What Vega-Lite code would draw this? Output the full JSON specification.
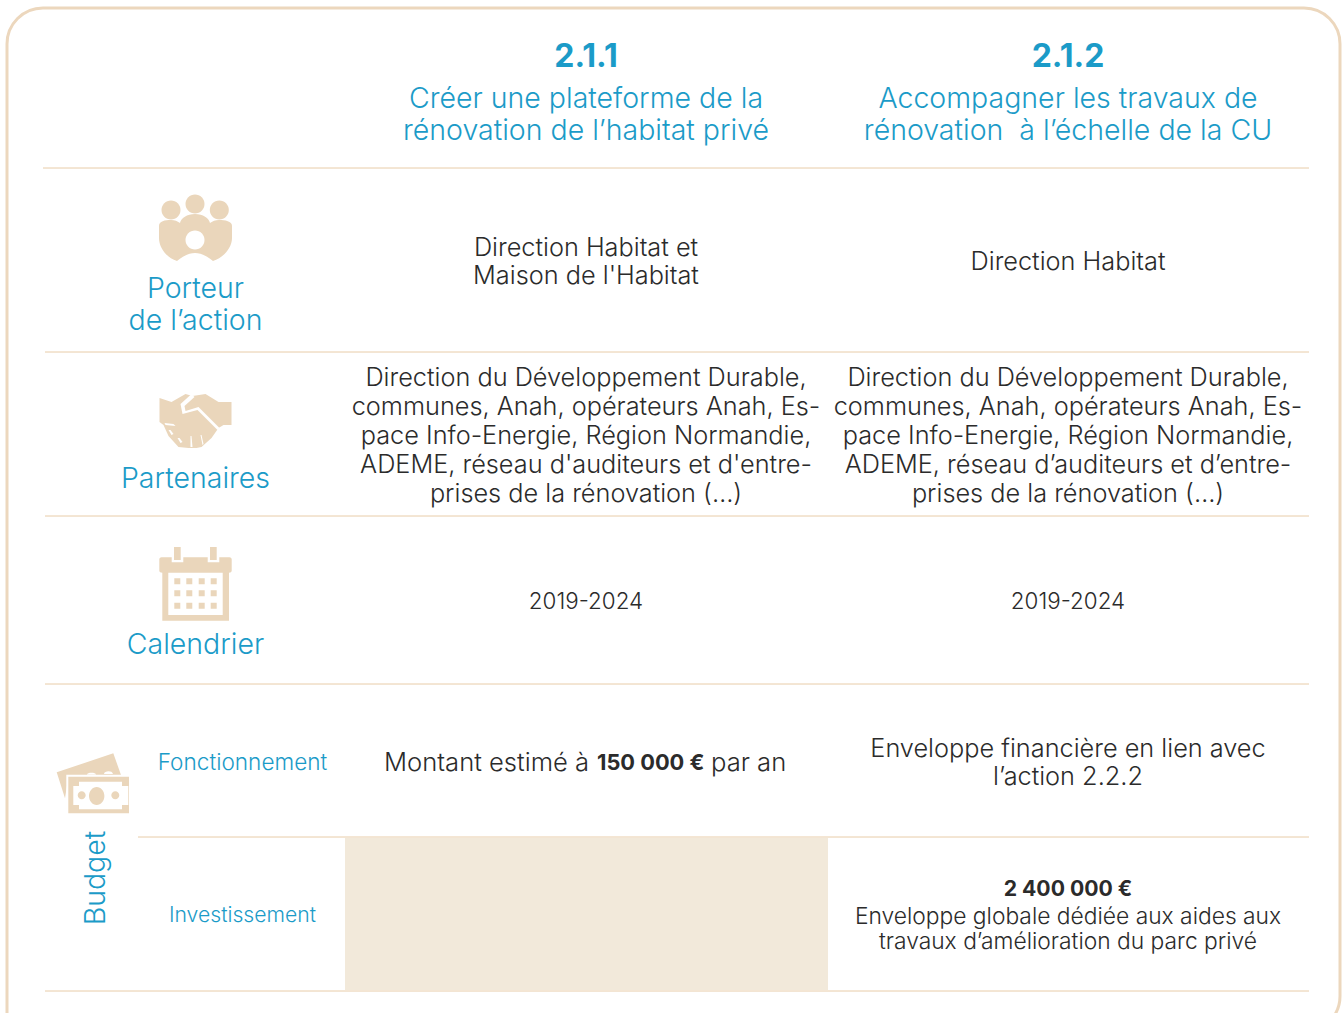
{"$schema":"https://vega.github.io/schema/vega-lite/v6.json","width":1344,"height":1013,"padding":0,"autosize":{"type":"fit","contains":"padding"},"background":"#ffffff","config":{"view":{"stroke":null},"text":{"font":"Inter","dy":1}},
"datasets":{
"frame":[{"x":7,"x2":1340,"y":8,"y2":1032}],
"shade":[{"x":345,"x2":828,"y":838,"y2":990}],
"rules":[{"x":43,"x2":1309,"y":168},{"x":45,"x2":1309,"y":352},{"x":45,"x2":1309,"y":516},{"x":45,"x2":1309,"y":684},{"x":138,"x2":1309,"y":837},{"x":45,"x2":1309,"y":991}],
"icons":[
{"part":"head1","paint":"tan","x":195,"y":230},{"part":"head2","paint":"tan","x":195,"y":230},{"part":"head3","paint":"tan","x":195,"y":230},{"part":"peopleBody","paint":"tan","x":195,"y":230},{"part":"peopleHole","paint":"white","x":195,"y":230},
{"part":"hands","paint":"tan","x":195.5,"y":421},{"part":"handsGap","paint":"white","x":195.5,"y":421},
{"part":"calBody","paint":"tan","x":195.5,"y":584},{"part":"calGap","paint":"white","x":195.5,"y":584},{"part":"calDetail","paint":"tan","x":195.5,"y":584},
{"part":"noteBack","paint":"tan","x":93,"y":785},{"part":"noteGap","paint":"white","x":93,"y":785},{"part":"noteFront","paint":"tan","x":93,"y":785},{"part":"noteInner","paint":"white","x":93,"y":785},{"part":"noteDetail","paint":"tan","x":93,"y":785}
],
"texts":[
{"role":"num","text":"2.1.1","x":586,"y":55},{"role":"num","text":"2.1.2","x":1068,"y":55},
{"role":"head","text":"Créer une plateforme de la","x":586,"y":97},{"role":"head","text":"rénovation de l’habitat privé","x":586,"y":129},
{"role":"head","text":"Accompagner les travaux de","x":1068,"y":97},{"role":"head","text":"rénovation \u00a0à l’échelle de la CU","x":1068,"y":129},
{"role":"head","text":"Porteur","x":195.5,"y":287},{"role":"head","text":"de l’action","x":195.5,"y":319},
{"role":"head","text":"Partenaires","x":195.5,"y":477},{"role":"head","text":"Calendrier","x":195.5,"y":643},
{"role":"small","text":"Fonctionnement","x":242.5,"y":762},{"role":"smaller","text":"Investissement","x":242.5,"y":915},
{"role":"body","text":"Direction Habitat et","x":586,"y":247},{"role":"body","text":"Maison de l'Habitat","x":586,"y":275},{"role":"body","text":"Direction Habitat","x":1068,"y":261},
{"role":"body","text":"Direction du Développement Durable,","x":586,"y":377},{"role":"body","text":"communes, Anah, opérateurs Anah, Es-","x":586,"y":406},{"role":"body","text":"pace Info-Energie, Région Normandie,","x":586,"y":435},{"role":"body","text":"ADEME, réseau d'auditeurs et d'entre-","x":586,"y":464},{"role":"body","text":"prises de la rénovation (…)","x":586,"y":493},
{"role":"body","text":"Direction du Développement Durable,","x":1068,"y":377},{"role":"body","text":"communes, Anah, opérateurs Anah, Es-","x":1068,"y":406},{"role":"body","text":"pace Info-Energie, Région Normandie,","x":1068,"y":435},{"role":"body","text":"ADEME, réseau d’auditeurs et d’entre-","x":1068,"y":464},{"role":"body","text":"prises de la rénovation (…)","x":1068,"y":493},
{"role":"years","text":"2019-2024","x":586,"y":601},{"role":"years","text":"2019-2024","x":1068,"y":601},
{"role":"body","text":"Enveloppe financière en lien avec","x":1068,"y":748},{"role":"body","text":"l’action 2.2.2","x":1068,"y":776},
{"role":"left","text":"Montant estimé à","x":384,"y":762},{"role":"leftBold","text":"150 000 €","x":597,"y":762},{"role":"left","text":"par an","x":711,"y":762},
{"role":"bold","text":"2 400 000 €","x":1068,"y":889},
{"role":"note","text":"Enveloppe globale dédiée aux aides aux","x":1068,"y":916},{"role":"note","text":"travaux d’amélioration du parc privé","x":1068,"y":941}
],
"vertical":[{"text":"Budget","x":95,"y":878}]
},
"layer":[
{"data":{"name":"shade"},"mark":{"type":"rect","fill":"#f2e9da"},"encoding":{"x":{"field":"x","type":"quantitative","axis":null,"scale":{"domain":[0,1344],"nice":false,"zero":false}},"x2":{"field":"x2"},"y":{"field":"y","type":"quantitative","axis":null,"scale":{"domain":[1013,0],"nice":false,"zero":false}},"y2":{"field":"y2"}}},
{"data":{"name":"frame"},"mark":{"type":"rect","fill":null,"stroke":"#ecd7bd","strokeWidth":3,"clip":true,"cornerRadiusTopLeft":36,"cornerRadiusTopRight":36,"cornerRadiusBottomRight":36,"cornerRadiusBottomLeft":0},"encoding":{"x":{"field":"x","type":"quantitative","axis":null},"x2":{"field":"x2"},"y":{"field":"y","type":"quantitative","axis":null},"y2":{"field":"y2"}}},
{"data":{"name":"rules"},"mark":{"type":"rule","stroke":"#e8cca8","strokeWidth":1},"encoding":{"x":{"field":"x","type":"quantitative","axis":null},"x2":{"field":"x2"},"y":{"field":"y","type":"quantitative","axis":null}}},
{"data":{"name":"icons"},"mark":{"type":"point","filled":true,"opacity":1,"size":4,"strokeWidth":0},"encoding":{"x":{"field":"x","type":"quantitative","axis":null},"y":{"field":"y","type":"quantitative","axis":null},
"color":{"field":"paint","type":"nominal","legend":null,"scale":{"domain":["tan","white"],"range":["#ead6bb","#ffffff"]}},
"shape":{"field":"part","type":"nominal","legend":null,"scale":{"domain":["head1","head2","head3","peopleBody","peopleHole","hands","handsGap","calBody","calGap","calDetail","noteBack","noteGap","noteFront","noteInner","noteDetail"],"range":[
"M-9.5,-26A9.5,9.5 0 1 0 9.5,-26A9.5,9.5 0 1 0 -9.5,-26Z",
"M-33.5,-20A9.5,9.5 0 1 0 -14.5,-20A9.5,9.5 0 1 0 -33.5,-20Z",
"M14.8,-20A9.5,9.5 0 1 0 33.8,-20A9.5,9.5 0 1 0 14.8,-20Z",
"M-36,-4C-36,-9 -30,-10 -24,-10C-20,-10 -18,-9 -15,-7C-14,-12 -8,-16 0,-16C8,-16 14,-12 15,-7C18,-9 20,-10 24,-10C30,-10 37,-9 37,-4L37,8C37,18 28,28 18,31C12,26 6,23 0,23C-6,23 -12,26 -18,31C-28,28 -36,18 -36,8Z",
"M-9.5,10A9.5,9.5 0 1 0 9.5,10A9.5,9.5 0 1 0 -9.5,10Z",
"M-36,-23L-24,-19L-10,-27L-3,-25L10,-27L23,-19L36,-19L36,4L28,4L23,7L16,17L6,26L1,27L-7,27L-17,26L-27,15L-32,4L-36,1Z",
"M-4,-27L-15,-17L-13,-7L2,-11L22,9L24,7L3,-14L-10,-10L-11,-15L-1,-24ZM-31,2L-22,3L-20,5L-30,4ZM-27,9L-25,9L-22,13L-24,14ZM-18,17L-16,17L-13,21L-15,22ZM-5,15L-4,15L-3,26L-5,26ZM5,14L6,14L8,23L7,24Z",
"M-36.2,-24.7C-36.2,-26 -35,-26.7 -34,-26.7L34,-26.7C35,-26.7 36.2,-26 36.2,-24.7L36.2,-13.3C36.2,-12 35,-11.3 33.5,-11.3L33.5,36.7L-33.2,36.7L-33.2,-11.3C-35,-11.3 -36.2,-12 -36.2,-13.3Z",
"M-27.2,-11.3L27.2,-11.3L27.2,31L-27.2,31ZM-23.8,-38L-12.2,-38L-12.2,-21.7L-23.8,-21.7ZM12.2,-38L23.8,-38L23.8,-21.7L12.2,-21.7Z",
"M-21.5,-37L-14.8,-37L-14.8,-24L-21.5,-24ZM14.5,-37L21.2,-37L21.2,-24L14.5,-24ZM-21.2,-5.7h6v6h-6ZM-9.2,-5.7h6v6h-6ZM3.2,-5.7h6v6h-6ZM15.2,-5.7h6v6h-6ZM-21.2,6.3h6v6h-6ZM-9.2,6.3h6v6h-6ZM3.2,6.3h6v6h-6ZM15.2,6.3h6v6h-6ZM-21.2,18.7h6v6h-6ZM-9.2,18.7h6v6h-6ZM3.2,18.7h6v6h-6ZM15.2,18.7h6v6h-6Z",
"M-36.3,-12.7L20.3,-31.7L28,-10L-24.7,-7.7L-28,13.3Z",
"M-26.7,-10.3L38,-10.3L38,30L-26.7,30ZM-6,-10.5C-6,-13 3,-13 3,-10.5ZM11,-11C11,-14 19,-15 20,-11Z",
"M-24.7,-8.3L36,-8.3L36,28.3L-24.7,28.3Z",
"M-14,-3.3L29,-3.3L29,1L35.3,1L35.3,20L29,20L29,24.3L-14,24.3L-14,20L-19.7,20L-19.7,1L-14,1Z",
"M-4,11A7.7,9 0 1 0 11.4,11A7.7,9 0 1 0 -4,11ZM-15.3,10.3A4,4 0 1 0 -7.3,10.3A4,4 0 1 0 -15.3,10.3ZM18.3,10.3A4,4 0 1 0 26.3,10.3A4,4 0 1 0 18.3,10.3Z"
]}}}},
{"data":{"name":"texts"},"transform":[{"filter":"datum.role==='num'"}],"mark":{"type":"text","align":"center","baseline":"middle","dy":2,"fontSize":32,"fontWeight":700,"fill":"#1b9bc8"},"encoding":{"x":{"field":"x","type":"quantitative","axis":null},"y":{"field":"y","type":"quantitative","axis":null},"text":{"field":"text"}}},
{"data":{"name":"texts"},"transform":[{"filter":"datum.role==='head'"}],"mark":{"type":"text","align":"center","baseline":"middle","dy":2,"fontSize":28.5,"fontWeight":300,"fill":"#1b9bc8"},"encoding":{"x":{"field":"x","type":"quantitative","axis":null},"y":{"field":"y","type":"quantitative","axis":null},"text":{"field":"text"}}},
{"data":{"name":"texts"},"transform":[{"filter":"datum.role==='small'"}],"mark":{"type":"text","align":"center","baseline":"middle","fontSize":22.6,"fontWeight":300,"fill":"#1b9bc8"},"encoding":{"x":{"field":"x","type":"quantitative","axis":null},"y":{"field":"y","type":"quantitative","axis":null},"text":{"field":"text"}}},
{"data":{"name":"texts"},"transform":[{"filter":"datum.role==='smaller'"}],"mark":{"type":"text","align":"center","baseline":"middle","fontSize":21.2,"fontWeight":300,"fill":"#1b9bc8"},"encoding":{"x":{"field":"x","type":"quantitative","axis":null},"y":{"field":"y","type":"quantitative","axis":null},"text":{"field":"text"}}},
{"data":{"name":"vertical"},"mark":{"type":"text","align":"center","baseline":"middle","angle":270,"fontSize":28.5,"fontWeight":300,"fill":"#1b9bc8"},"encoding":{"x":{"field":"x","type":"quantitative","axis":null},"y":{"field":"y","type":"quantitative","axis":null},"text":{"field":"text"}}},
{"data":{"name":"texts"},"transform":[{"filter":"datum.role==='body'"}],"mark":{"type":"text","align":"center","baseline":"middle","fontSize":25.3,"fontWeight":300,"fill":"#2b2b2b"},"encoding":{"x":{"field":"x","type":"quantitative","axis":null},"y":{"field":"y","type":"quantitative","axis":null},"text":{"field":"text"}}},
{"data":{"name":"texts"},"transform":[{"filter":"datum.role==='years'"}],"mark":{"type":"text","align":"center","baseline":"middle","fontSize":22.4,"fontWeight":300,"fill":"#2b2b2b"},"encoding":{"x":{"field":"x","type":"quantitative","axis":null},"y":{"field":"y","type":"quantitative","axis":null},"text":{"field":"text"}}},
{"data":{"name":"texts"},"transform":[{"filter":"datum.role==='note'"}],"mark":{"type":"text","align":"center","baseline":"middle","fontSize":22.8,"fontWeight":300,"fill":"#2b2b2b"},"encoding":{"x":{"field":"x","type":"quantitative","axis":null},"y":{"field":"y","type":"quantitative","axis":null},"text":{"field":"text"}}},
{"data":{"name":"texts"},"transform":[{"filter":"datum.role==='left'"}],"mark":{"type":"text","align":"left","baseline":"middle","fontSize":25.6,"fontWeight":300,"fill":"#2b2b2b"},"encoding":{"x":{"field":"x","type":"quantitative","axis":null},"y":{"field":"y","type":"quantitative","axis":null},"text":{"field":"text"}}},
{"data":{"name":"texts"},"transform":[{"filter":"datum.role==='leftBold'"}],"mark":{"type":"text","align":"left","baseline":"middle","fontSize":21.8,"fontWeight":700,"fill":"#2b2b2b"},"encoding":{"x":{"field":"x","type":"quantitative","axis":null},"y":{"field":"y","type":"quantitative","axis":null},"text":{"field":"text"}}},
{"data":{"name":"texts"},"transform":[{"filter":"datum.role==='bold'"}],"mark":{"type":"text","align":"center","baseline":"middle","fontSize":21.2,"fontWeight":700,"fill":"#2b2b2b"},"encoding":{"x":{"field":"x","type":"quantitative","axis":null},"y":{"field":"y","type":"quantitative","axis":null},"text":{"field":"text"}}}
]}
